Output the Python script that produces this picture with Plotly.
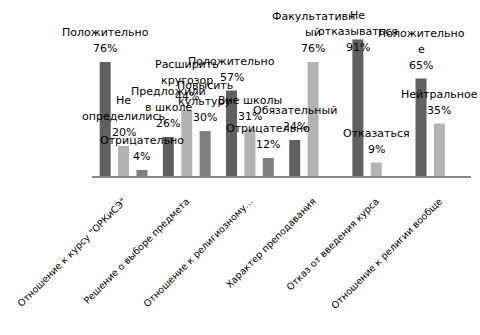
import plotly.graph_objects as go

# Survey results, percent of respondents
categories = [
    'Отношение к курсу "ОРКиСЭ"',
    "Решение о выборе предмета",
    "Отношение к религиозному...",
    "Характер преподавания",
    "Отказ от введения курса",
    "Отношение к религии вообще",
]

# first answer in each question
s1_values = [76, 26, 57, 24, 91, 65]
s1_labels = ["Положительно", "Предложили\nв школе", "Положительно", "Обязательный",
             "Не\nотказываться", "Положительно\nе"]

# second answer
s2_values = [20, 44, 31, 76, 9, 35]
s2_labels = ["Не\nопределились", "Расширить\nкругозор", "Вне школы", "Факультативн\nый",
             "Отказаться", "Нейтральное"]

# third answer (only the first three questions have one)
s3_values = [4, 30, 12, None, None, None]
s3_labels = ["Отрицательно", "Повысить\nкультуру", "Отрицательно", None, None, None]

colors = ["#606060", "#b3b3b3", "#808080"]
series = [(s1_values, s1_labels), (s2_values, s2_labels), (s3_values, s3_labels)]

W, H = 480, 335
M_L, M_R, M_T, M_B = 92, 9, 26, 159
Y_MAX = 100
BARGAP = 0.127
plot_h = H - M_T - M_B
px_per_unit = plot_h / Y_MAX

FONT = "DejaVu Sans"
LINE = 16          # spacing between label lines, px
VALUE_GAP = 13.5   # value line centre above bar top, px
TOP_LIMIT = 15     # highest allowed line centre, px from page top

fig = go.Figure()
for k, (vals, _) in enumerate(series):
    fig.add_trace(go.Bar(
        x=list(range(len(categories))), y=vals,
        marker=dict(color=colors[k], line=dict(width=0)),
        showlegend=False, hoverinfo="skip",
    ))

annotations = []
slot = (1 - BARGAP) / len(series)
for k, (vals, labels) in enumerate(series):
    offset = (k - (len(series) - 1) / 2) * slot
    for i, (v, lab) in enumerate(zip(vals, labels)):
        if v is None:
            continue
        lines = lab.split("\n") + [f"{v}%"]
        n = len(lines)
        bar_top = M_T + (Y_MAX - v) * px_per_unit
        top_center = bar_top - VALUE_GAP - LINE * (n - 1)
        push = max(0, TOP_LIMIT - top_center)
        for j, text in enumerate(lines):
            from_bottom = n - 1 - j
            annotations.append(dict(
                x=i + offset, y=v, xref="x", yref="y",
                text=text, showarrow=False,
                xanchor="center", yanchor="middle",
                yshift=VALUE_GAP + LINE * from_bottom - push,
                font=dict(family=FONT, size=11, color="#000000"),
            ))

fig.update_layout(
    width=W, height=H,
    margin=dict(l=M_L, r=M_R, t=M_T, b=M_B, autoexpand=False),
    paper_bgcolor="white", plot_bgcolor="white",
    barmode="group", bargap=BARGAP, bargroupgap=0.4,
    annotations=annotations,
    xaxis=dict(
        tickmode="array", tickvals=list(range(len(categories))), ticktext=categories,
        range=[-0.5, len(categories) - 0.5],
        tickangle=-45, showgrid=False, zeroline=False,
        showline=True, linecolor="#888888", linewidth=2,
        ticks="outside", ticklen=14, tickcolor="rgba(0,0,0,0)",
        tickfont=dict(family=FONT, size=9.5, color="#000000"),
        automargin=False,
    ),
    yaxis=dict(range=[0, Y_MAX], visible=False, showgrid=False, zeroline=False),
)

fig.write_html("out.html")
